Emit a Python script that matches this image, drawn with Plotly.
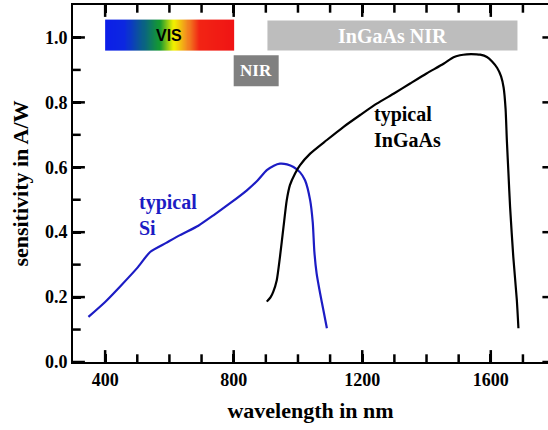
import numpy as np
import plotly.graph_objects as go

# ---- data ----
si_wl = [348, 400, 446, 500, 540, 590, 633, 690, 737, 790, 841, 875, 903, 925, 944, 966, 986, 1006, 1022, 1038, 1046, 1051, 1058, 1069, 1079, 1090]
si_s = [0.139, 0.185, 0.232, 0.290, 0.339, 0.367, 0.391, 0.420, 0.452, 0.490, 0.529, 0.560, 0.591, 0.605, 0.611, 0.609, 0.601, 0.585, 0.560, 0.498, 0.430, 0.340, 0.273, 0.211, 0.160, 0.104]

ingaas_wl = [903, 915, 923, 934, 944, 955, 965, 975, 991, 1006, 1038, 1090, 1141, 1195, 1245, 1300, 1349, 1400, 1453, 1484, 1504, 1525, 1556, 1567, 1588, 1604, 1620, 1632, 1640, 1646, 1650, 1655, 1660, 1670, 1681, 1686]
ingaas_s = [0.186, 0.200, 0.216, 0.252, 0.324, 0.416, 0.498, 0.545, 0.581, 0.606, 0.642, 0.684, 0.724, 0.762, 0.796, 0.828, 0.858, 0.889, 0.919, 0.939, 0.945, 0.948, 0.948, 0.947, 0.940, 0.926, 0.906, 0.880, 0.845, 0.780, 0.683, 0.580, 0.478, 0.324, 0.191, 0.104]

vis_band = [400, 800]
vis_level = [0.96, 1.055]
nir_band = [800, 940]
nir_level = [0.85, 0.945]
ingaas_band = [905, 1683]
ingaas_level = [0.96, 1.052]

x_ticks = [400, 800, 1200, 1600]
y_ticks = [0.0, 0.2, 0.4, 0.6, 0.8, 1.0]
x_range = [300, 1778]
y_range = [0, 1.1]

SERIF = "Liberation Serif, Times New Roman, serif"
SANS = "Liberation Sans, Arial, sans-serif"
BLUE = "#1c1cc4"

fig = go.Figure()

# VIS gradient band as heatmap
n = 120
edges = np.linspace(vis_band[0], vis_band[1], n + 1)
centers = (edges[:-1] + edges[1:]) / 2
fig.add_trace(go.Heatmap(
    x=edges, y=vis_level, z=[centers],
    zmin=vis_band[0], zmax=vis_band[1],
    colorscale=[[0, '#0c1ee8'], [0.15, '#0c28e0'], [0.3, '#0a6482'], [0.42, '#159a30'],
                [0.53, '#f2f000'], [0.63, '#f29020'], [0.73, '#f22414'], [1, '#f01414']],
    zsmooth='best', showscale=False, hoverinfo='skip'))

fig.add_trace(go.Scatter(x=si_wl, y=si_s, mode='lines', line_shape='spline',
                         line=dict(color=BLUE, width=2.2, smoothing=0.6), showlegend=False))
fig.add_trace(go.Scatter(x=ingaas_wl, y=ingaas_s, mode='lines', line_shape='spline',
                         line=dict(color='black', width=2.2, smoothing=0.6), showlegend=False))

# inward tick marks drawn as markers on the plot frame (half clipped by the plot area)
x_step = 100
y_step = 0.1
x_minor = [v for v in np.arange(x_range[0], x_range[1], x_step) if v not in x_ticks and v > x_range[0]]
y_minor = [round(v, 1) for v in np.arange(y_step, y_range[1], 2 * y_step)]


def tick_trace(xs, ys, symbol, size):
    return go.Scatter(x=xs, y=ys, mode='markers', cliponaxis=True, showlegend=False, hoverinfo='skip',
                      marker=dict(symbol=symbol, size=size, color='black', line=dict(width=2.5, color='black')))


for yv in y_range:  # bottom and top
    fig.add_trace(tick_trace(x_ticks, [yv] * len(x_ticks), 'line-ns', 17))
    fig.add_trace(tick_trace(x_minor, [yv] * len(x_minor), 'line-ns', 11))
fig.add_trace(tick_trace([x_range[0]] * len(y_ticks), y_ticks, 'line-ew', 17))
fig.add_trace(tick_trace([x_range[0]] * len(y_minor), y_minor, 'line-ew', 11))
fig.add_trace(tick_trace([x_range[1]] * len(y_ticks), y_ticks, 'line-ew', 8))

fig.add_shape(type='rect', x0=nir_band[0], x1=nir_band[1], y0=nir_level[0], y1=nir_level[1],
              fillcolor='#808080', line=dict(width=0), layer='below')
fig.add_shape(type='rect', x0=ingaas_band[0], x1=ingaas_band[1], y0=ingaas_level[0], y1=ingaas_level[1],
              fillcolor='#bdbdbd', line=dict(width=0), layer='below')

fig.add_annotation(x=sum(vis_band) / 2, y=sum(vis_level) / 2, text='<b>VIS</b>', showarrow=False,
                   font=dict(family=SANS, size=16, color='black'))
fig.add_annotation(x=sum(nir_band) / 2, y=sum(nir_level) / 2, text='<b>NIR</b>', showarrow=False,
                   font=dict(family=SERIF, size=17, color='white'))
fig.add_annotation(x=sum(ingaas_band) / 2, y=sum(ingaas_level) / 2, text='<b>InGaAs NIR</b>', showarrow=False,
                   font=dict(family=SERIF, size=20, color='white'))
fig.add_annotation(x=499, y=0.452, text='<b>typical<br>Si</b>', showarrow=False, xanchor='left', align='left',
                   font=dict(family=SERIF, size=20, color=BLUE))
fig.add_annotation(x=1231, y=0.724, text='<b>typical<br>InGaAs</b>', showarrow=False, xanchor='left', align='left',
                   font=dict(family=SERIF, size=20, color='black'))

fig.update_layout(
    width=548, height=430,
    margin=dict(l=73, r=0, t=5, b=68),
    plot_bgcolor='white', paper_bgcolor='white',
    showlegend=False,
    xaxis=dict(range=x_range, tickmode='array', tickvals=x_ticks,
               ticks='inside', ticklen=8, tickwidth=2.5, tickcolor='black',
               showline=True, linewidth=2, linecolor='black', mirror='ticks',
               showgrid=False, zeroline=False, automargin=False,
               tickfont=dict(family=SERIF, size=18, color='black', weight='bold'),
               title=dict(text='<b>wavelength in nm</b>', font=dict(family=SERIF, size=22, color='black'), standoff=14)),
    yaxis=dict(range=y_range, tickmode='array', tickvals=y_ticks,
               tickformat='.1f', ticks='inside', ticklen=8, tickwidth=2.5, tickcolor='black',
               showline=True, linewidth=2, linecolor='black', mirror=False,
               showgrid=False, zeroline=False, automargin=False,
               tickfont=dict(family=SERIF, size=18, color='black', weight='bold'),
               title=dict(text='<b>sensitivity in A/W</b>', font=dict(family=SERIF, size=22, color='black'), standoff=10)),
)

fig.write_html("out.html", config={'displayModeBar': False},
               post_script="document.body.style.margin='0';")
